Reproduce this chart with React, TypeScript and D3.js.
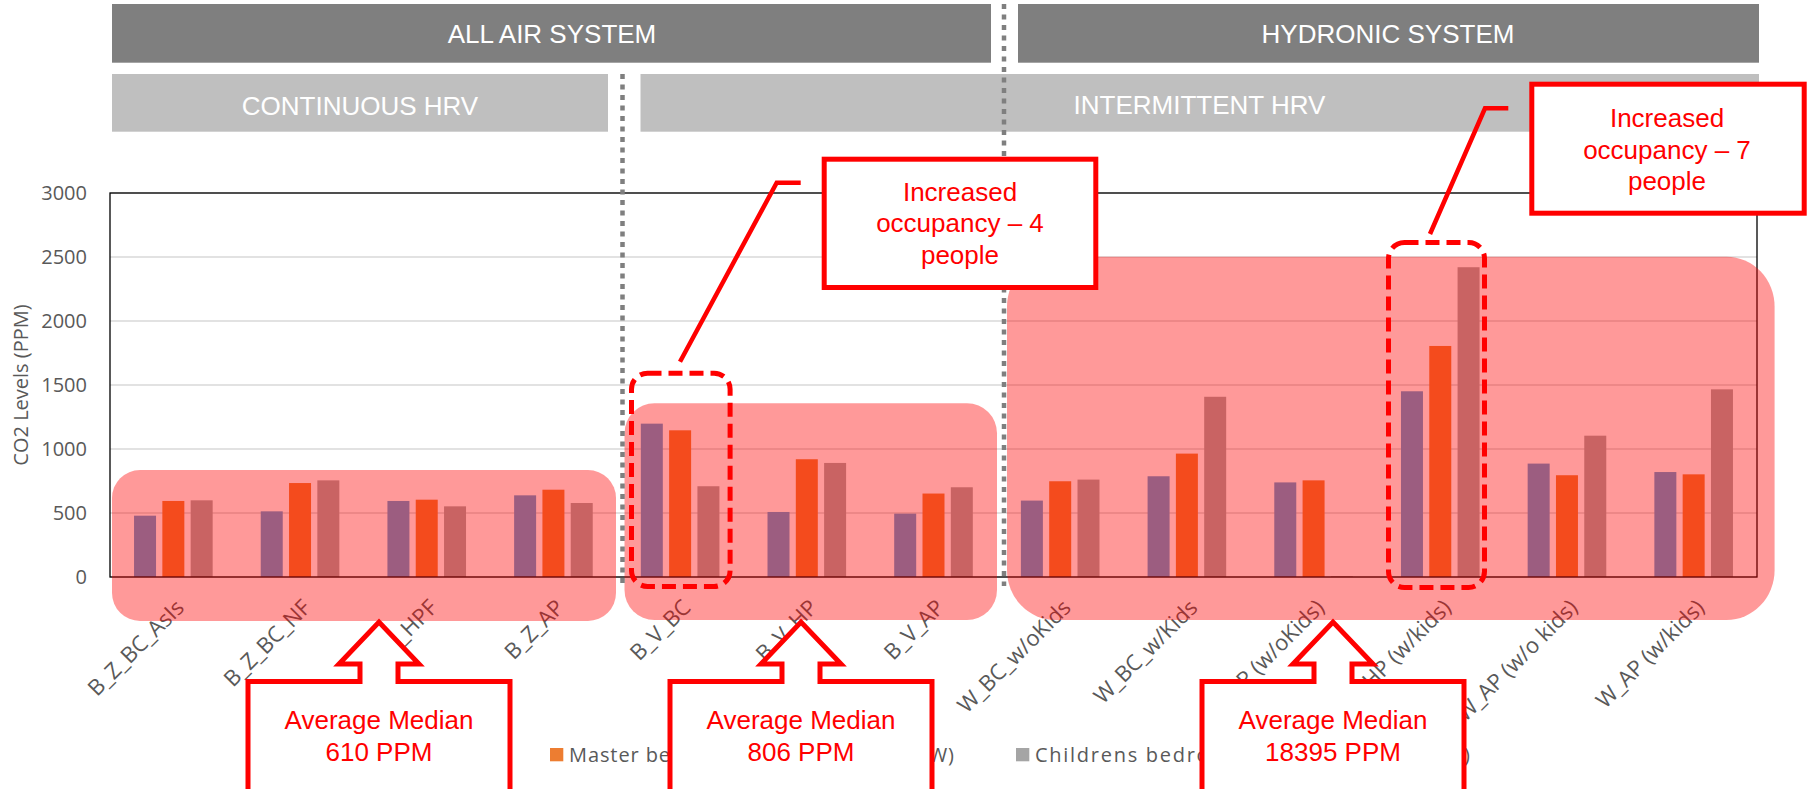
import React from "react";
import * as d3 from "d3";

// ---- data ----
const categories = [
  "B_Z_BC_AsIs",
  "B_Z_BC_NF",
  "B_Z_HPF",
  "B_Z_AP",
  "B_V_BC",
  "B_V_HP",
  "B_V_AP",
  "W_BC_w/oKids",
  "W_BC_w/Kids",
  "W_HP (w/oKids)",
  "W_HP (w/kids)",
  "W_AP (w/o kids)",
  "W_AP (w/kids)",
];
const livingRoom = [479, 513, 594, 638, 1198, 508, 495, 597, 787, 739, 1451, 886, 820];
const masterBedroom = [594, 734, 604, 682, 1146, 920, 652, 748, 964, 755, 1805, 795, 802];
const childrensBedroom = [599, 755, 552, 578, 709, 891, 701, 761, 1408, 6, 2420, 1104, 1466];
const seriesNames = [
  "Living room (LRW)",
  "Master bedroom (Door closed – MBW)",
  "Childrens bedroom (Door closed – CBW)",
];
const seriesColors = ["#5B9BD5", "#ED7D31", "#A5A5A5"];
const yTicks = [0, 500, 1000, 1500, 2000, 2500, 3000];
const yTitle = "CO2 Levels (PPM)";
const medianLabels = ["610 PPM", "806 PPM", "18395 PPM"];

const RED = "#FF0000";
const AXIS_FONT = "'Open Sans', 'DejaVu Sans', sans-serif";
const ARIAL = "'Liberation Sans', Arial, sans-serif";

function arrowCallout(c: number) {
  const half = 131,
    shaft = 19,
    head = 40;
  const tip = 622,
    headBase = 664,
    bodyTop = 681.5,
    bottom = 810;
  return [
    `M${c - half},${bottom}`,
    `L${c - half},${bodyTop}`,
    `L${c - shaft},${bodyTop}`,
    `L${c - shaft},${headBase}`,
    `L${c - head},${headBase}`,
    `L${c},${tip}`,
    `L${c + head},${headBase}`,
    `L${c + shaft},${headBase}`,
    `L${c + shaft},${bodyTop}`,
    `L${c + half},${bodyTop}`,
    `L${c + half},${bottom}`,
  ].join(" ");
}

export default function App() {
  const W = 1812,
    H = 789;
  const plot = { left: 110, right: 1757, top: 193, bottom: 577 };
  const x0 = d3
    .scaleBand<string>()
    .domain(categories)
    .range([plot.left, plot.right])
    .paddingInner(0)
    .paddingOuter(0);
  const groupW = 78.6;
  const groupOffset = (x0.bandwidth() - groupW) / 2;
  const seriesKeys = ["0", "1", "2"];
  const x1 = d3.scaleBand<string>().domain(seriesKeys).range([0, groupW]).paddingInner(0.223);
  const y = d3.scaleLinear().domain([0, 3000]).range([plot.bottom, plot.top]);
  const series = [livingRoom, masterBedroom, childrensBedroom];

  const legendX = [298, 550, 1016];
  const legendLen = [null, 385, 435];

  const medianCenters = [379, 801, 1333];

  return (
    <div style={{ position: "absolute", left: 0, top: 0, width: W, height: H, overflow: "hidden" }}>
      <svg width={W} height={H} style={{ display: "block", background: "#fff" }}>
        {/* header bars */}
        <rect x={112} y={4} width={879} height={58.7} fill="#7F7F7F" />
        <rect x={1018} y={4} width={741} height={58.7} fill="#7F7F7F" />
        <rect x={112} y={74} width={496} height={57.7} fill="#BFBFBF" />
        <rect x={640.5} y={74} width={1118.5} height={57.7} fill="#BFBFBF" />
        <text x={552} y={43} fill="#fff" fontFamily={ARIAL} fontSize={26} textAnchor="middle">
          ALL AIR SYSTEM
        </text>
        <text x={1388} y={43} fill="#fff" fontFamily={ARIAL} fontSize={26} textAnchor="middle">
          HYDRONIC SYSTEM
        </text>
        <text x={360} y={114.5} fill="#fff" fontFamily={ARIAL} fontSize={26} textAnchor="middle">
          CONTINUOUS HRV
        </text>
        <text x={1199.5} y={114} fill="#fff" fontFamily={ARIAL} fontSize={26} textAnchor="middle">
          INTERMITTENT HRV
        </text>

        {/* gridlines */}
        {yTicks.map((t) => (
          <line
            key={"g" + t}
            x1={plot.left}
            x2={plot.right}
            y1={y(t)}
            y2={y(t)}
            stroke="#D9D9D9"
            strokeWidth={1.3}
          />
        ))}

        {/* bars */}
        {categories.map((c, i) => (
          <g key={c} transform={`translate(${(x0(c) as number) + groupOffset},0)`}>
            {series.map((s, k) => (
              <rect
                key={k}
                x={x1(seriesKeys[k])}
                y={y(s[i])}
                width={x1.bandwidth()}
                height={y(0) - y(s[i])}
                fill={seriesColors[k]}
              />
            ))}
          </g>
        ))}

        {/* plot border */}
        <rect
          x={plot.left}
          y={plot.top}
          width={plot.right - plot.left}
          height={plot.bottom - plot.top}
          fill="none"
          stroke="#000"
          strokeWidth={1.3}
        />

        {/* y ticks */}
        {yTicks.map((t) => (
          <text
            key={"t" + t}
            x={87}
            y={y(t) + 7}
            textAnchor="end"
            fontFamily={AXIS_FONT}
            fontSize={20}
            fill="#595959"
          >
            {t}
          </text>
        ))}
        <text
          transform={`translate(28,${(plot.top + plot.bottom) / 2}) rotate(-90)`}
          textAnchor="middle"
          fontFamily={AXIS_FONT}
          fontSize={20}
          fill="#595959"
        >
          {yTitle}
        </text>

        {/* x labels */}
        {categories.map((c) => {
          const cx = (x0(c) as number) + x0.bandwidth() / 2 + 12;
          return (
            <text
              key={"l" + c}
              transform={`translate(${cx},609) rotate(-45)`}
              textAnchor="end"
              fontFamily={AXIS_FONT}
              fontSize={22}
              fill="#595959"
            >
              {c}
            </text>
          );
        })}

        {/* legend */}
        {seriesNames.map((n, k) => (
          <g key={"lg" + n}>
            <rect x={legendX[k]} y={748} width={13.3} height={13.3} fill={seriesColors[k]} />
            <text
              x={legendX[k] + 19}
              y={761.5}
              fontFamily={AXIS_FONT}
              fontSize={20}
              fill="#595959"
              {...(legendLen[k] ? { textLength: legendLen[k], lengthAdjust: "spacing" } : {})}
            >
              {n}
            </text>
          </g>
        ))}

        {/* pink highlight overlays */}
        <rect x={112} y={470} width={504} height={151} rx={28} ry={28} fill="rgba(255,0,0,0.4)" />
        <rect x={624.5} y={403.3} width={372.5} height={216.7} rx={30} ry={30} fill="rgba(255,0,0,0.4)" />
        <rect x={1007} y={256.7} width={767.6} height={363.3} rx={48} ry={50} fill="rgba(255,0,0,0.4)" />

        {/* grey dotted separators */}
        <line x1={622.5} x2={622.5} y1={74} y2={584} stroke="#7F7F7F" strokeWidth={4.5} strokeDasharray="5 5.5" />
        <line x1={1004} x2={1004} y1={4} y2={586} stroke="#7F7F7F" strokeWidth={4.5} strokeDasharray="5 5.5" />

        {/* dashed highlight boxes */}
        <rect
          x={631.5}
          y={373.2}
          width={98.6}
          height={213.3}
          rx={16}
          ry={16}
          fill="none"
          stroke={RED}
          strokeWidth={5}
          strokeDasharray="14 7"
        />
        <rect
          x={1388.5}
          y={242.5}
          width={96}
          height={345}
          rx={16}
          ry={16}
          fill="none"
          stroke={RED}
          strokeWidth={5}
          strokeDasharray="14 7"
        />

        {/* occupancy callouts */}
        <polyline
          points="800.7,182.7 776.7,182.7 680,361.7"
          fill="none"
          stroke={RED}
          strokeWidth={4.5}
        />
        <rect x={824.2} y={159.2} width={271.6} height={128.3} fill="#fff" stroke={RED} strokeWidth={5} />
        <g fontFamily={ARIAL} fontSize={26} fill={RED} textAnchor="middle">
          <text x={960} y={200.7}>Increased</text>
          <text x={960} y={232.3}>occupancy – 4</text>
          <text x={960} y={263.5}>people</text>
        </g>

        <polyline
          points="1508.3,108.3 1485,108.3 1430,234"
          fill="none"
          stroke={RED}
          strokeWidth={4.5}
        />
        <rect x={1531.8} y={84.2} width={272.4} height={129} fill="#fff" stroke={RED} strokeWidth={5} />
        <g fontFamily={ARIAL} fontSize={26} fill={RED} textAnchor="middle">
          <text x={1667} y={126.7}>Increased</text>
          <text x={1667} y={158.7}>occupancy – 7</text>
          <text x={1667} y={189.5}>people</text>
        </g>

        {/* average median callouts */}
        {medianCenters.map((c, k) => (
          <g key={"m" + k}>
            <path d={arrowCallout(c)} fill="#fff" stroke={RED} strokeWidth={5} strokeLinejoin="miter" />
            <text x={c} y={729} fontFamily={ARIAL} fontSize={26} fill={RED} textAnchor="middle">
              Average Median
            </text>
            <text x={c} y={761} fontFamily={ARIAL} fontSize={26} fill={RED} textAnchor="middle">
              {medianLabels[k]}
            </text>
          </g>
        ))}
      </svg>
    </div>
  );
}
